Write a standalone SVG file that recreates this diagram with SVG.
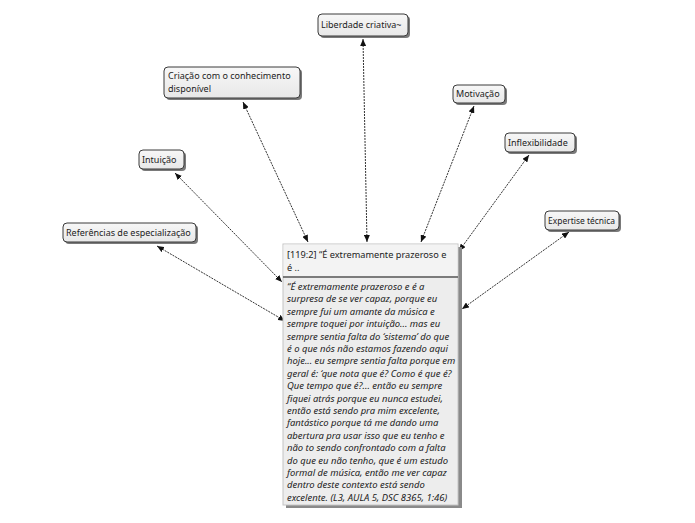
<svg xmlns="http://www.w3.org/2000/svg" width="695" height="523" viewBox="0 0 695 523">
<defs>
<linearGradient id="ng" x1="0" y1="0" x2="0" y2="1">
<stop offset="0" stop-color="#f7f7f7"/>
<stop offset="1" stop-color="#e8e8e8"/>
</linearGradient>
<marker id="ah" viewBox="0 0 7 6" refX="7" refY="3" markerWidth="7" markerHeight="6" markerUnits="userSpaceOnUse" orient="auto-start-reverse">
<path d="M0,0 L7,3 L0,6 z" fill="#111"/>
</marker>
</defs>
<style>
.sh{fill:#7a7a7a;}
.nb{fill:url(#ng);stroke:#3a3a3a;stroke-width:1;}
.lb{font-family:"Noto Sans","DejaVu Sans",sans-serif;font-size:9px;fill:#222;}
.hd{font-family:"Noto Sans","DejaVu Sans",sans-serif;font-size:9.2px;fill:#222;}
.bd{font-family:"Noto Sans","DejaVu Sans",sans-serif;font-size:9.45px;font-style:italic;fill:#222;}
.cn{fill:none;stroke:#333;stroke-width:1;stroke-dasharray:2,1;marker-start:url(#ah);marker-end:url(#ah);}
</style>
<rect width="695" height="523" fill="#ffffff"/>
<g id="connectors">
<line class="cn" x1="363" y1="39" x2="367" y2="242"/>
<line class="cn" x1="243" y1="102" x2="308" y2="242"/>
<line class="cn" x1="474" y1="106" x2="421" y2="242"/>
<line class="cn" x1="529" y1="155" x2="459" y2="251"/>
<line class="cn" x1="569" y1="232" x2="462" y2="309"/>
<line class="cn" x1="175" y1="173" x2="282" y2="282"/>
<line class="cn" x1="157" y1="246" x2="285" y2="321"/>
</g>
<g id="n-liberdade">
<rect class="sh" x="320" y="16" width="90" height="22" rx="4"/>
<rect class="nb" x="318" y="14" width="90" height="22" rx="4"/>
<text class="lb" x="321" y="28">Liberdade criativa~</text>
</g>
<g id="n-criacao">
<rect class="sh" x="166" y="69" width="136" height="31" rx="4"/>
<rect class="nb" x="164" y="67" width="136" height="31" rx="4"/>
<text class="lb" x="168" y="79">Criação com o conhecimento</text>
<text class="lb" x="168" y="92">disponível</text>
</g>
<g id="n-motivacao">
<rect class="sh" x="455" y="87" width="52" height="18" rx="4"/>
<rect class="nb" x="453" y="85" width="52" height="18" rx="4"/>
<text class="lb" x="456" y="97">Motivação</text>
</g>
<g id="n-inflexibilidade">
<rect class="sh" x="507" y="135" width="70" height="19" rx="4"/>
<rect class="nb" x="505" y="133" width="70" height="19" rx="4"/>
<text class="lb" x="508" y="146">Inflexibilidade</text>
</g>
<g id="n-intuicao">
<rect class="sh" x="141" y="152" width="45" height="19" rx="4"/>
<rect class="nb" x="139" y="150" width="45" height="19" rx="4"/>
<text class="lb" x="142" y="163">Intuição</text>
</g>
<g id="n-referencias">
<rect class="sh" x="65" y="225" width="133" height="19" rx="4"/>
<rect class="nb" x="63" y="223" width="133" height="19" rx="4"/>
<text class="lb" x="66" y="236">Referências de especialização</text>
</g>
<g id="n-expertise">
<rect class="sh" x="547" y="213" width="74" height="19" rx="4"/>
<rect class="nb" x="545" y="211" width="74" height="19" rx="4"/>
<text class="lb" x="548" y="224" textLength="67" lengthAdjust="spacingAndGlyphs">Expertise técnica</text>
</g>
<g id="n-quote">
<rect x="286" y="247" width="176" height="261" fill="#8a8a8a"/>
<rect x="283" y="244" width="175" height="261" fill="#ededed" stroke="#c4c4c4" stroke-width="1"/>
<rect x="283.5" y="244.5" width="174" height="32" fill="#f3f3f3"/>
<line x1="283" y1="277" x2="458" y2="277" stroke="#555" stroke-width="1.5"/>
<text class="hd" x="287" y="258">[119:2] “É extremamente prazeroso e</text>
<text class="hd" x="287" y="271">é ..</text>
<text class="bd" x="287" y="290">“É extremamente prazeroso e é a</text>
<text class="bd" x="287" y="302.4">surpresa de se ver capaz, porque eu</text>
<text class="bd" x="287" y="314.8">sempre fui um amante da música e</text>
<text class="bd" x="287" y="327.2">sempre toquei por intuição... mas eu</text>
<text class="bd" x="287" y="339.6">sempre sentia falta do ‘sistema’ do que</text>
<text class="bd" x="287" y="352">é o que nós não estamos fazendo aqui</text>
<text class="bd" x="287" y="364.4">hoje... eu sempre sentia falta porque em</text>
<text class="bd" x="287" y="376.8">geral é: ‘que nota que é? Como é que é?</text>
<text class="bd" x="287" y="389.2">Que tempo que é?... então eu sempre</text>
<text class="bd" x="287" y="401.6">fiquei atrás porque eu nunca estudei,</text>
<text class="bd" x="287" y="414">então está sendo pra mim excelente,</text>
<text class="bd" x="287" y="426.4">fantástico porque tá me dando uma</text>
<text class="bd" x="287" y="438.8">abertura pra usar isso que eu tenho e</text>
<text class="bd" x="287" y="451.2">não to sendo confrontado com a falta</text>
<text class="bd" x="287" y="463.6">do que eu não tenho, que é um estudo</text>
<text class="bd" x="287" y="476">formal de música, então me ver capaz</text>
<text class="bd" x="287" y="488.4">dentro deste contexto está sendo</text>
<text class="bd" x="287" y="500.8">excelente. (L3, AULA 5, DSC 8365, 1:46)</text>
</g>
</svg>
